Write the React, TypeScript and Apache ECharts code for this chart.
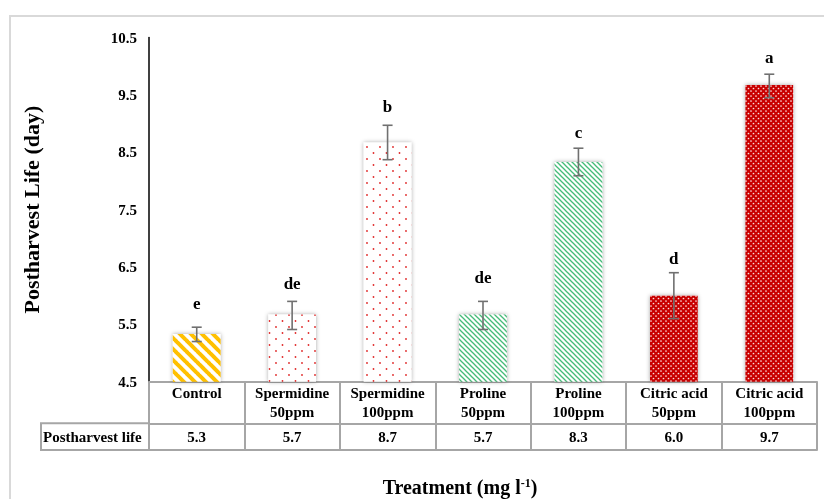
import React, { useEffect, useRef } from "react";
import * as echarts from "echarts";

const categories = [
  "Control",
  "Spermidine\n50ppm",
  "Spermidine\n100ppm",
  "Proline\n50ppm",
  "Proline\n100ppm",
  "Citric acid\n50ppm",
  "Citric acid\n100ppm",
];
const postharvestLife = [5.33, 5.67, 8.67, 5.67, 8.33, 6.0, 9.67];
const errLow = [5.2, 5.41, 8.37, 5.41, 8.09, 5.6, 9.45];
const errHigh = [5.45, 5.9, 8.97, 5.9, 8.57, 6.4, 9.86];
const letters = ["e", "de", "b", "de", "c", "d", "a"];
const letterPos = [5.87, 6.22, 9.29, 6.31, 8.84, 6.64, 10.16];
const yTicks = { min: 4.5, max: 10.5, interval: 1 };
const rowHeader = "Postharvest life";

const FONT = "'Liberation Serif', 'Times New Roman', serif";
const GRID = "#a6a6a6";

function makeTile(w: number, h: number, draw: (c: CanvasRenderingContext2D) => void) {
  const cv = document.createElement("canvas");
  cv.width = w;
  cv.height = h;
  const ctx = cv.getContext("2d")!;
  draw(ctx);
  return { image: cv, repeat: "repeat", imageWidth: w, imageHeight: h } as any;
}

function stripes(size: number, lw: number, color: string) {
  return makeTile(size, size, (c) => {
    c.fillStyle = "#fff";
    c.fillRect(0, 0, size, size);
    c.strokeStyle = color;
    c.lineWidth = lw;
    for (const o of [-size, 0, size]) {
      c.beginPath();
      c.moveTo(o - 1, -1);
      c.lineTo(o + size + 1, size + 1);
      c.stroke();
    }
  });
}

export default function App() {
  const ref = useRef<HTMLDivElement>(null);
  useEffect(() => {
    document.body.style.margin = "0";
    const chart = echarts.init(ref.current!, undefined, { renderer: "svg" });

    const yellow = stripes(11, 4, "#ffc000");
    const green = stripes(5, 1.3, "#45bb78");
    const redDots = makeTile(13, 12, (c) => {
      c.fillStyle = "#fff";
      c.fillRect(0, 0, 13, 12);
      c.fillStyle = "#e02828";
      for (const [x, y] of [[3, 3], [9.5, 9]]) {
        c.beginPath();
        c.arc(x, y, 0.9, 0, Math.PI * 2);
        c.fill();
      }
    });
    const redGrid = makeTile(5, 5, (c) => {
      c.fillStyle = "#c80000";
      c.fillRect(0, 0, 5, 5);
      c.fillStyle = "rgba(255,235,235,0.95)";
      for (const [x, y] of [[1, 1], [3.5, 3.5]]) {
        c.beginPath();
        c.arc(x, y, 0.85, 0, Math.PI * 2);
        c.fill();
      }
    });
    const fills = [yellow, redDots, redDots, green, green, redGrid, redGrid];

    const labelBase = { fontFamily: FONT, fontWeight: "bold" as const, color: "#000", fontSize: 15 };

    chart.setOption({
      animation: false,
      grid: { left: 149, right: 7, top: 37.5, bottom: 117.3, containLabel: false, outerBoundsMode: "none" },
      xAxis: [
        {
          type: "category",
          data: categories,
          position: "bottom",
          axisLine: { show: true, lineStyle: { color: GRID, width: 2 } },
          axisTick: { show: true, interval: 0, length: 68.3, lineStyle: { color: GRID, width: 2 } },
          axisLabel: { ...labelBase, interval: 0, margin: 2, lineHeight: 19 },
        },
        {
          type: "category",
          data: postharvestLife.map((v) => v.toFixed(1)),
          position: "bottom",
          offset: 41.6,
          axisLine: { show: true, lineStyle: { color: GRID, width: 2 } },
          axisTick: { show: false },
          axisLabel: { ...labelBase, interval: 0, margin: 6 },
        },
        {
          type: "category",
          data: categories,
          position: "bottom",
          offset: 68.3,
          axisLine: { show: true, lineStyle: { color: GRID, width: 2 } },
          axisTick: { show: false },
          axisLabel: { show: false },
        },
      ],
      yAxis: {
        type: "value",
        min: yTicks.min,
        max: yTicks.max,
        interval: yTicks.interval,
        axisLine: { show: true, lineStyle: { color: "#000", width: 1.5 } },
        axisTick: { show: false },
        splitLine: { show: false },
        axisLabel: { ...labelBase, margin: 12, formatter: (v: number) => v.toFixed(1) },
        name: "Postharvest Life (day)",
        nameLocation: "middle",
        nameGap: 107,
        nameTextStyle: { fontFamily: FONT, fontWeight: "bold", fontSize: 22, color: "#000" },
      },
      series: [
        {
          type: "bar",
          xAxisIndex: 0,
          barWidth: "50%",
          data: postharvestLife.map((v, i) => ({
            value: v,
            itemStyle: {
              color: fills[i],
              shadowBlur: 4,
              shadowColor: "rgba(0,0,0,0.35)",
            },
          })),
        },
        {
          type: "custom",
          xAxisIndex: 0,
          data: errLow.map((lo, i) => [i, lo, errHigh[i]]),
          renderItem: (params: any, api: any) => {
            const top = api.coord([api.value(0), api.value(2)]);
            const bot = api.coord([api.value(0), api.value(1)]);
            const w = 5;
            const st = { stroke: "#707070", lineWidth: 1.6 };
            return {
              type: "group",
              children: [
                { type: "line", shape: { x1: top[0], y1: top[1], x2: bot[0], y2: bot[1] }, style: st },
                { type: "line", shape: { x1: top[0] - w, y1: top[1], x2: top[0] + w, y2: top[1] }, style: st },
                { type: "line", shape: { x1: bot[0] - w, y1: bot[1], x2: bot[0] + w, y2: bot[1] }, style: st },
              ],
            };
          },
          z: 5,
        },
        {
          type: "custom",
          xAxisIndex: 0,
          data: letterPos.map((v, i) => [i, v]),
          renderItem: (params: any, api: any) => {
            const p = api.coord([api.value(0), api.value(1)]);
            return {
              type: "text",
              x: p[0],
              y: p[1],
              style: {
                text: letters[params.dataIndex],
                fontFamily: FONT,
                fontWeight: "bold",
                fontSize: 17,
                fill: "#000",
                align: "center",
                verticalAlign: "middle",
              },
            };
          },
          z: 6,
        },
      ],
      graphic: [
        {
          type: "rect",
          shape: { x: 10, y: 16, width: 900, height: 600 },
          style: { fill: "none", stroke: "#d9d9d9", lineWidth: 2 },
          silent: true,
          z: -1,
        },
        {
          type: "rect",
          shape: { x: 41, y: 423.3, width: 108, height: 26.7 },
          style: { fill: "none", stroke: GRID, lineWidth: 2 },
        },
        {
          type: "text",
          x: 43,
          y: 437,
          style: {
            text: rowHeader,
            fontFamily: FONT,
            fontWeight: "bold",
            fontSize: 15,
            fill: "#000",
            align: "left",
            verticalAlign: "middle",
          },
        },
        {
          type: "text",
          x: 460,
          y: 487,
          style: {
            text: "Treatment (mg l{sup|-1})",
            fontFamily: FONT,
            fontWeight: "bold",
            fontSize: 20,
            fill: "#000",
            align: "center",
            verticalAlign: "middle",
            rich: {
              sup: {
                fontFamily: FONT,
                fontWeight: "bold",
                fontSize: 12,
                fill: "#000",
                verticalAlign: "top",
                padding: [0, 0, 7, 0],
              },
            },
          },
        },
      ],
    });
    return () => chart.dispose();
  }, []);
  return <div ref={ref} style={{ position: "fixed", left: 0, top: 0, width: 824, height: 499 }} />;
}
